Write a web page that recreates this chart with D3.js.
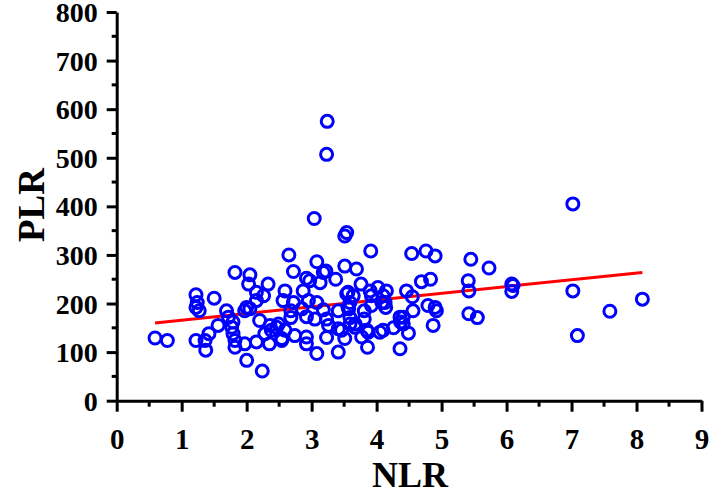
<!DOCTYPE html>
<html>
<head>
<meta charset="utf-8">
<script src="https://cdn.jsdelivr.net/npm/d3@7"></script>
<style>
  html, body { margin: 0; padding: 0; background: #fff; }
  svg { display: block; }
</style>
</head>
<body>
<svg id="chart" width="709" height="494"></svg>
<script>
// ---- data ----
const nlr = [
  0.59, 0.78, 1.22, 1.24, 1.22, 1.27, 1.50, 1.22, 1.36, 1.37,
  1.42, 1.56, 1.69, 1.72, 1.79, 1.77, 1.79, 1.82, 1.82, 1.82,
  2.05, 2.03, 1.97, 2.00, 2.05, 1.97, 2.00, 2.15, 2.26, 2.33,
  2.15, 2.20, 2.15, 2.24, 2.28, 2.35, 2.38, 2.46, 2.36, 2.49,
  2.54, 2.54, 2.59, 2.56, 2.65, 2.72, 2.72, 2.68, 2.68, 2.74,
  2.59, 2.92, 2.97, 2.92, 2.92, 2.92, 2.87, 2.95, 2.85, 3.08,
  3.18, 3.22, 3.13, 3.08, 3.18, 3.05, 3.23, 3.26, 3.23, 3.08,
  3.04, 3.24, 3.23, 3.37, 3.41, 3.41, 3.46, 3.41, 3.51, 3.51,
  3.54, 3.51, 3.54, 3.56, 3.64, 3.56, 3.59, 3.57, 3.59, 3.59,
  3.67, 3.67, 3.69, 3.76, 3.77, 3.81, 3.81, 3.85, 3.87, 3.86,
  3.90, 3.91, 3.92, 3.92, 4.02, 4.08, 4.13, 4.15, 4.10, 4.14,
  4.05, 4.10, 4.26, 4.36, 4.37, 4.41, 4.41, 4.49, 4.36, 4.46,
  4.55, 4.56, 4.54, 4.76, 4.90, 4.69, 4.83, 4.79, 4.90, 4.92,
  4.87, 5.45, 5.73, 5.41, 5.42, 5.42, 5.55, 6.08, 6.10, 6.08,
  7.02, 7.02, 7.09, 7.59, 8.09
];
const plr = [
  129, 124, 218, 202, 192, 185, 211, 124, 124, 104,
  138, 155, 185, 172, 162, 151, 138, 124, 110, 264,
  259, 240, 185, 192, 189, 117, 83, 223, 216, 240,
  206, 165, 121, 61, 138, 117, 145, 151, 155, 158,
  128, 124, 226, 206, 300, 266, 202, 185, 171, 134,
  145, 252, 247, 131, 117, 173, 226, 206, 189, 286,
  264, 267, 243, 202, 187, 168, 168, 155, 130, 97,
  375, 575, 507, 250, 185, 148, 145, 100, 277, 339,
  346, 128, 220, 223, 216, 192, 202, 189, 171, 158,
  158, 151, 271, 240, 131, 185, 168, 145, 141, 110,
  226, 308, 216, 196, 233, 202, 202, 226, 216, 192,
  141, 145, 150, 172, 162, 158, 172, 139, 107, 226,
  214, 185, 303, 308, 298, 245, 250, 196, 192, 185,
  155, 291, 273, 247, 226, 179, 171, 240, 237, 225,
  405, 226, 134, 184, 209
];
// fitted regression line end points
const fitNLR = [0.59, 8.09];
const fitPLR = [160, 264];

const xTicks = [0, 1, 2, 3, 4, 5, 6, 7, 8, 9];
const yTicks = [0, 100, 200, 300, 400, 500, 600, 700, 800];
const xTitle = "NLR";
const yTitle = "PLR";

// ---- drawing ----
const svg = d3.select("#chart");
const x = d3.scaleLinear().domain([0, 9]).range([116.7, 701.5]);
const y = d3.scaleLinear().domain([0, 800]).range([400.7, 12]);
const font = "'Liberation Serif', 'Times New Roman', serif";

// regression line (under points)
const pts = nlr.map((v, i) => [v, plr[i]]);
svg.append("path")
  .datum(fitNLR.map((v, i) => [v, fitPLR[i]]))
  .attr("d", d3.line().x(d => x(d[0])).y(d => y(d[1])))
  .attr("fill", "none")
  .attr("stroke", "#ff0000")
  .attr("stroke-width", 3);

// points
svg.append("g").selectAll("circle")
  .data(pts)
  .join("circle")
  .attr("cx", d => x(d[0]))
  .attr("cy", d => y(d[1]))
  .attr("r", 6)
  .attr("fill", "none")
  .attr("stroke", "#0000ff")
  .attr("stroke-width", 3);

// x axis
const xMinor = d3.range(0.5, 9, 1);
const xAxisG = svg.append("g").attr("transform", `translate(0,${y(0)})`);
xAxisG.call(d3.axisBottom(x).tickValues(xTicks).tickSize(11).tickSizeOuter(0).tickFormat(d3.format("d")))
  .call(g => g.select(".domain").attr("stroke-width", 3))
  .call(g => g.selectAll(".tick line").attr("stroke-width", 3))
  .call(g => g.selectAll(".tick text")
    .attr("font-family", font).attr("font-weight", "bold").attr("font-size", 29)
    .attr("fill", "#000").attr("dy", null).attr("y", 48));
xAxisG.selectAll(".minor").data(xMinor).join("line")
  .attr("x1", d => x(d)).attr("x2", d => x(d))
  .attr("y1", 0).attr("y2", 6)
  .attr("stroke", "#000").attr("stroke-width", 3);

// y axis
const yMinor = d3.range(50, 800, 100);
const yAxisG = svg.append("g").attr("transform", `translate(${x(0)},0)`);
yAxisG.call(d3.axisLeft(y).tickValues(yTicks).tickSize(10).tickSizeOuter(0).tickFormat(d3.format("d")))
  .call(g => g.select(".domain").attr("stroke-width", 3))
  .call(g => g.selectAll(".tick line").attr("stroke-width", 3))
  .call(g => g.selectAll(".tick text")
    .attr("font-family", font).attr("font-weight", "bold").attr("font-size", 28)
    .attr("fill", "#000").attr("x", -19).attr("dy", "0.34em"));
yAxisG.selectAll(".minor").data(yMinor).join("line")
  .attr("x1", 0).attr("x2", -5)
  .attr("y1", d => y(d)).attr("y2", d => y(d))
  .attr("stroke", "#000").attr("stroke-width", 3);

// axis titles
svg.append("text")
  .attr("x", 410).attr("y", 487)
  .attr("text-anchor", "middle")
  .attr("font-family", font).attr("font-weight", "bold").attr("font-size", 36)
  .text(xTitle);
svg.append("text")
  .attr("transform", "translate(44,205) rotate(-90)")
  .attr("text-anchor", "middle")
  .attr("font-family", font).attr("font-weight", "bold").attr("font-size", 37)
  .text(yTitle);
</script>
</body>
</html>
